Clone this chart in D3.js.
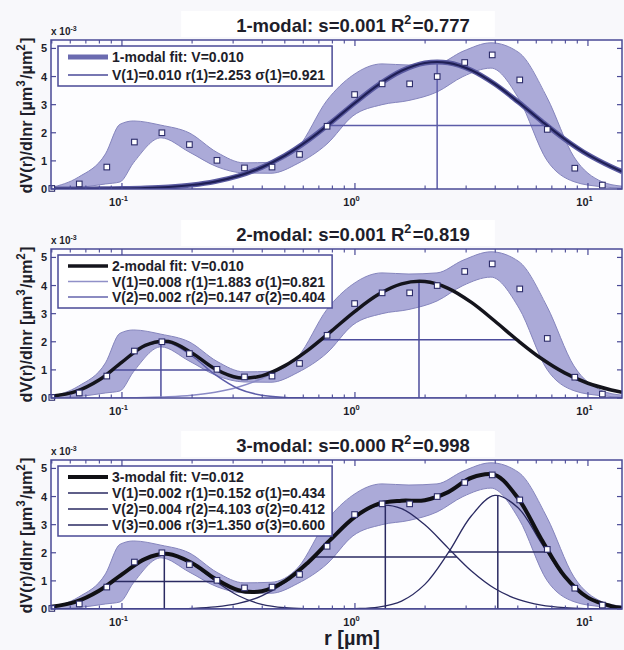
<!DOCTYPE html>
<html>
<head>
<meta charset="utf-8">
<script src="https://cdn.jsdelivr.net/npm/d3@7"></script>
<style>
  body { margin: 0; background: #f8f8fb; }
  svg { display: block; }
  text { font-family: "Liberation Sans", Arial, sans-serif; font-weight: bold; fill: #1e1e2a; }
</style>
</head>
<body>
<div id="chart"></div>
<script>
// measured size distribution (dV/dlnr in units of 1e-3 um^3/um^2)
var sizeR = [0.05, 0.0656, 0.0861, 0.1131, 0.1484, 0.1948, 0.2557, 0.3357, 0.4406, 0.5784, 0.7592,
  0.9965, 1.308, 1.717, 2.254, 2.958, 3.883, 5.097, 6.691, 8.782, 11.53];
var measured = [0.02, 0.18, 0.78, 1.67, 2.0, 1.58, 1.02, 0.75, 0.78, 1.23, 2.23,
  3.36, 3.74, 3.74, 4.0, 4.5, 4.77, 3.88, 2.12, 0.74, 0.14];

// uncertainty band
var bandR = [0.0496, 0.065, 0.085, 0.098, 0.112, 0.147, 0.194, 0.256, 0.334, 0.436, 0.569, 0.758,
  0.98, 1.306, 1.705, 2.249, 2.908, 3.834, 5.057, 6.668, 8.709, 11.48, 14.0];
var bandHigh = [0.05, 0.42, 1.25, 2.3, 2.42, 2.27, 2.0, 1.3, 0.93, 0.95, 1.47, 3.15,
  4.05, 4.45, 4.41, 4.45, 4.9, 5.2, 4.85, 3.26, 1.14, 0.26, 0.1];
var bandLow = [0.0, 0.05, 0.18, 0.25, 0.93, 1.82, 1.32, 0.79, 0.57, 0.56, 0.91, 1.6,
  2.6, 3.0, 3.15, 3.45, 4.0, 4.3, 3.2, 1.02, 0.26, 0.08, 0.03];

// radii where the fitted curves were read
var gridR = [0.0496, 0.0631, 0.0794, 0.1, 0.1259, 0.1585, 0.1995, 0.2512, 0.3162, 0.3981, 0.5012, 0.631, 0.7943,
  1, 1.259, 1.585, 1.995, 2.512, 3.162, 3.981, 5.012, 6.31, 7.943, 10, 12.59, 14.0];

// 1-modal
var fit1 = [0.001, 0.0024, 0.0062, 0.0148, 0.0335, 0.0711, 0.1415, 0.265, 0.466, 0.769, 1.193, 1.739, 2.382,
  3.064, 3.702, 4.202, 4.481, 4.489, 4.224, 3.734, 3.101, 2.419, 1.773, 1.221, 0.789, 0.62];

// 2-modal
var fit2 = [0.058, 0.225, 0.629, 1.276, 1.876, 2.01, 1.602, 1.034, 0.722, 0.788, 1.151, 1.712, 2.388,
  3.083, 3.68, 4.06, 4.14, 3.902, 3.4, 2.739, 2.039, 1.403, 0.892, 0.525, 0.285, 0.204];
var fit2Mode1 = [0.0002, 0.0008, 0.0024, 0.0069, 0.0182, 0.0441, 0.0988, 0.204, 0.391, 0.692, 1.131, 1.709, 2.388,
  3.083, 3.68, 4.06, 4.14, 3.902, 3.4, 2.739, 2.039, 1.403, 0.892, 0.525, 0.285, 0.204];
var fit2Mode2 = [0.0576, 0.224, 0.627, 1.269, 1.858, 1.966, 1.503, 0.83, 0.331, 0.0956, 0.0199, 0.003, 0.0003,
  0, 0, 0, 0, 0, 0, 0, 0, 0, 0, 0, 0, 0];

// 3-modal
var fit3 = [0.075, 0.252, 0.641, 1.231, 1.786, 1.957, 1.633, 1.076, 0.669, 0.634, 0.992, 1.666, 2.507,
  3.277, 3.741, 3.852, 3.869, 4.159, 4.669, 4.768, 3.939, 2.483, 1.167, 0.405, 0.104, 0.047];
var fit3Mode1 = [0.0747, 0.252, 0.641, 1.231, 1.784, 1.951, 1.61, 1.003, 0.471, 0.167, 0.0448, 0.009, 0.0014,
  0.0002, 0, 0, 0, 0, 0, 0, 0, 0, 0, 0, 0, 0];
var fit3Mode2 = [0, 0, 0, 0, 0, 0, 0, 0, 0, 0, 0, 0.0001, 0.0014,
  0.0114, 0.0663, 0.282, 0.876, 1.993, 3.317, 4.039, 3.6, 2.347, 1.12, 0.391, 0.0999, 0.0449];
var fit3Mode3 = [0, 0, 0.0001, 0.0003, 0.0015, 0.0063, 0.0231, 0.0729, 0.198, 0.467, 0.947, 1.657, 2.504,
  3.265, 3.675, 3.57, 2.993, 2.166, 1.352, 0.729, 0.339, 0.136, 0.0472, 0.0141, 0.0036, 0.0017];

// mode radius, peak height and half-height width for the marker lines
var modeR1 = [2.253],              modePeak1 = [4.52],             modeLo1 = [0.762],                modeHi1 = [6.66];
var modeR2 = [1.883, 0.147],       modePeak2 = [4.15, 2.0],        modeLo2 = [0.716, 0.0913],        modeHi2 = [4.951, 0.2366];
var modeR3 = [0.152, 4.103, 1.35], modePeak3 = [1.96, 4.05, 3.7],  modeLo3 = [0.0912, 2.526, 0.666], modeHi3 = [0.2534, 6.664, 2.736];

var titleNames = ["1-modal: s=0.001 R", "2-modal: s=0.001 R", "3-modal: s=0.000 R"];
var titleR2 = ["=0.777", "=0.819", "=0.998"];
var legend1 = ["1-modal fit: V=0.010", "V(1)=0.010 r(1)=2.253 \u03c3(1)=0.921"];
var legend2 = ["2-modal fit: V=0.010", "V(1)=0.008 r(1)=1.883 \u03c3(1)=0.821", "V(2)=0.002 r(2)=0.147 \u03c3(2)=0.404"];
var legend3 = ["3-modal fit: V=0.012", "V(1)=0.002 r(1)=0.152 \u03c3(1)=0.434", "V(2)=0.004 r(2)=4.103 \u03c3(2)=0.412",
  "V(3)=0.006 r(3)=1.350 \u03c3(3)=0.600"];
var yTicks = [0, 1, 2, 3, 4, 5];
var xTicks = [0.1, 1, 10];
var xTickExp = ["-1", "0", "1"];

// ---------------------------------------------------------------
var width = 624, height = 650;
var plotLeft = 51, plotRight = 622, plotH = 149;
var panelTops = [40, 249, 460];
var frameColor = "#4a4a96";

var svg = d3.select("#chart").append("svg")
  .attr("width", width).attr("height", height);

var x = d3.scaleLog().domain([0.0496, 14.0]).range([plotLeft, plotRight]);

// minor ticks for the log axis
var minorTicks = [];
[0.01, 0.1, 1, 10].forEach(function(dec) {
  for (var k = 2; k <= 9; k++) {
    var v = dec * k;
    if (v > x.domain()[0] && v < x.domain()[1]) minorTicks.push(v);
  }
});

function rich(sel, parts, supSize) {
  parts.forEach(function(p) {
    if (p[1]) {
      sel.append("tspan").attr("dy", -p[2]).attr("font-size", supSize).text(p[0]);
      sel.append("tspan").attr("dy", p[2]).text("\u200a");
    } else {
      sel.append("tspan").text(p[0]);
    }
  });
}

var panels = [
  { fit: fit1, modes: [fit1], modeR: modeR1, peak: modePeak1, lo: modeLo1, hi: modeHi1, legend: legend1, rowH: 18,
    fitColor: "#5a5aa0", fitWidth: 5, modeColors: ["#1f1f56"], modeWidth: 2.2, markColor: "#5c5ca8", modesOnTop: true },
  { fit: fit2, modes: [fit2Mode1, fit2Mode2], modeR: modeR2, peak: modePeak2, lo: modeLo2, hi: modeHi2, legend: legend2, rowH: 15.5,
    fitColor: "#14141c", fitWidth: 3.5, modeColors: ["#8a8ac6", "#5c5ca8"], modeWidth: 1.5, markColor: "#4c4c9c", modesOnTop: false },
  { fit: fit3, modes: [fit3Mode1, fit3Mode2, fit3Mode3], modeR: modeR3, peak: modePeak3, lo: modeLo3, hi: modeHi3, legend: legend3, rowH: 16,
    fitColor: "#101014", fitWidth: 4, modeColors: ["#2a2a62", "#2a2a62", "#2a2a62"], modeWidth: 1.3, markColor: "#2a2a62", modesOnTop: false }
];
var legendColors = [["#6b6bb0", "#4a4a98"], ["#14141c", "#9090c8", "#6464ac"], ["#101014", "#2a2a62", "#2a2a62", "#2a2a62"]];

panels.forEach(function(p, i) {
  var top = panelTops[i], bottom = top + plotH;
  var y = d3.scaleLinear().domain([0, 5.3]).range([bottom, top]);
  var g = svg.append("g");

  g.append("defs").append("clipPath").attr("id", "clip" + i)
    .append("rect").attr("x", plotLeft).attr("y", top).attr("width", plotRight - plotLeft).attr("height", plotH);

  g.append("rect").attr("x", plotLeft).attr("y", top).attr("width", plotRight - plotLeft).attr("height", plotH)
    .attr("fill", "#fdfdff");

  var body = g.append("g").attr("clip-path", "url(#clip" + i + ")");

  // band
  var area = d3.area()
    .x(function(d, j) { return x(bandR[j]); })
    .y0(function(d, j) { return y(bandLow[j]); })
    .y1(function(d, j) { return y(bandHigh[j]); })
    .curve(d3.curveMonotoneX);
  body.append("path").datum(bandR).attr("d", area)
    .attr("fill", "#abaad8").attr("stroke", "#8585bd").attr("stroke-width", 1);

  var line = function(vals) {
    return d3.line()
      .x(function(d, j) { return x(gridR[j]); })
      .y(function(d) { return y(d); })
      .curve(d3.curveCatmullRom)(vals);
  };

  // mode marker lines
  p.modeR.forEach(function(r, j) {
    body.append("line").attr("x1", x(r)).attr("x2", x(r)).attr("y1", y(0)).attr("y2", y(p.peak[j]))
      .attr("stroke", p.markColor).attr("stroke-width", 1.5);
    body.append("line").attr("x1", x(p.lo[j])).attr("x2", x(p.hi[j]))
      .attr("y1", y(p.peak[j] / 2)).attr("y2", y(p.peak[j] / 2))
      .attr("stroke", p.markColor).attr("stroke-width", 1.5);
  });

  function drawModes() {
    p.modes.forEach(function(m, j) {
      body.append("path").attr("d", line(m)).attr("fill", "none")
        .attr("stroke", p.modeColors[j]).attr("stroke-width", p.modeWidth);
    });
  }
  if (!p.modesOnTop) drawModes();
  body.append("path").attr("d", line(p.fit)).attr("fill", "none")
    .attr("stroke", p.fitColor).attr("stroke-width", p.fitWidth).attr("stroke-linejoin", "round");
  if (p.modesOnTop) drawModes();

  // measured points
  g.selectAll(".pt" + i).data(measured).enter().append("rect")
    .attr("x", function(d, j) { return x(sizeR[j]) - 2.8; })
    .attr("y", function(d) { return y(d) - 2.8; })
    .attr("width", 5.6).attr("height", 5.6)
    .attr("fill", "#ffffff").attr("stroke", "#2c2c6a").attr("stroke-width", 1.1);

  // frame
  g.append("rect").attr("x", plotLeft).attr("y", top).attr("width", plotRight - plotLeft).attr("height", plotH)
    .attr("fill", "none").attr("stroke", frameColor).attr("stroke-width", 1.5);

  // y ticks (inside) and labels
  yTicks.forEach(function(t) {
    g.append("line").attr("x1", plotLeft).attr("x2", plotLeft + 5).attr("y1", y(t)).attr("y2", y(t))
      .attr("stroke", frameColor).attr("stroke-width", 1.2);
    g.append("line").attr("x1", plotRight - 5).attr("x2", plotRight).attr("y1", y(t)).attr("y2", y(t))
      .attr("stroke", frameColor).attr("stroke-width", 1.2);
    g.append("text").attr("x", plotLeft - 4).attr("y", y(t) + 4).attr("text-anchor", "end")
      .attr("font-size", 11).text(t);
  });

  // x ticks
  xTicks.forEach(function(t, j) {
    [[bottom, -6], [top, 6]].forEach(function(e) {
      g.append("line").attr("x1", x(t)).attr("x2", x(t)).attr("y1", e[0]).attr("y2", e[0] + e[1])
        .attr("stroke", frameColor).attr("stroke-width", 1.2);
    });
    var lab = g.append("text").attr("x", x(t) - 3).attr("y", bottom + 17).attr("text-anchor", "middle")
      .attr("font-size", 11);
    rich(lab, [["10", false], [xTickExp[j], true, 5]], 7.5);
  });
  minorTicks.forEach(function(t) {
    [[bottom, -3.5], [top, 3.5]].forEach(function(e) {
      g.append("line").attr("x1", x(t)).attr("x2", x(t)).attr("y1", e[0]).attr("y2", e[0] + e[1])
        .attr("stroke", frameColor).attr("stroke-width", 1.1);
    });
  });

  // exponent note
  var ex = g.append("text").attr("x", plotLeft).attr("y", top - 5).attr("font-size", 10);
  rich(ex, [["x 10", false], ["-3", true, 4]], 7);

  // y label
  var yl = g.append("text")
    .attr("transform", "translate(32," + ((top + bottom) / 2 + 1) + ") rotate(-90)")
    .attr("text-anchor", "middle").attr("font-size", 17)
    .attr("textLength", 156).attr("lengthAdjust", "spacingAndGlyphs");
  rich(yl, [["dV(r)/dlnr [\u00b5m", false], ["3", true, 7], ["/\u00b5m", false], ["2", true, 7], ["]", false]], 12);

  // title with white box
  var tg = g.append("g");
  var tbox = tg.append("rect").attr("fill", "#ffffff");
  var tt = tg.append("text").attr("x", 353).attr("y", top - 8).attr("text-anchor", "middle").attr("font-size", 18.5);
  rich(tt, [[titleNames[i], false], ["2", true, 8], [titleR2[i], false]], 12.5);
  var bb = tt.node().getBBox();
  tbox.attr("x", bb.x - 55).attr("y", bb.y - 2).attr("width", bb.width + 80).attr("height", bb.height + 3);

  // legend
  var lx = 58, ly = top + 6, rowH = p.rowH;
  var lg = g.append("g");
  var lbox = lg.append("rect").attr("x", lx).attr("y", ly)
    .attr("fill", "#ffffff").attr("stroke", frameColor).attr("stroke-width", 1.5);
  var maxW = 0;
  p.legend.forEach(function(s, j) {
    var yy = ly + 11 + j * rowH;
    var sw = j === 0 ? p.fitWidth : 1.6;
    lg.append("line").attr("x1", lx + 10).attr("x2", lx + 50).attr("y1", yy).attr("y2", yy)
      .attr("stroke", legendColors[i][j]).attr("stroke-width", sw);
    var tx = lg.append("text").attr("x", lx + 54).attr("y", yy + 5).attr("font-size", 14).text(s);
    maxW = Math.max(maxW, tx.node().getComputedTextLength());
  });
  lbox.attr("width", 54 + maxW + 7).attr("height", 22 + (p.legend.length - 1) * rowH);
});

// x axis label
var xl = svg.append("text").attr("x", 352).attr("y", 645).attr("text-anchor", "middle").attr("font-size", 20);
xl.text("r [\u00b5m]");
</script>
</body>
</html>
